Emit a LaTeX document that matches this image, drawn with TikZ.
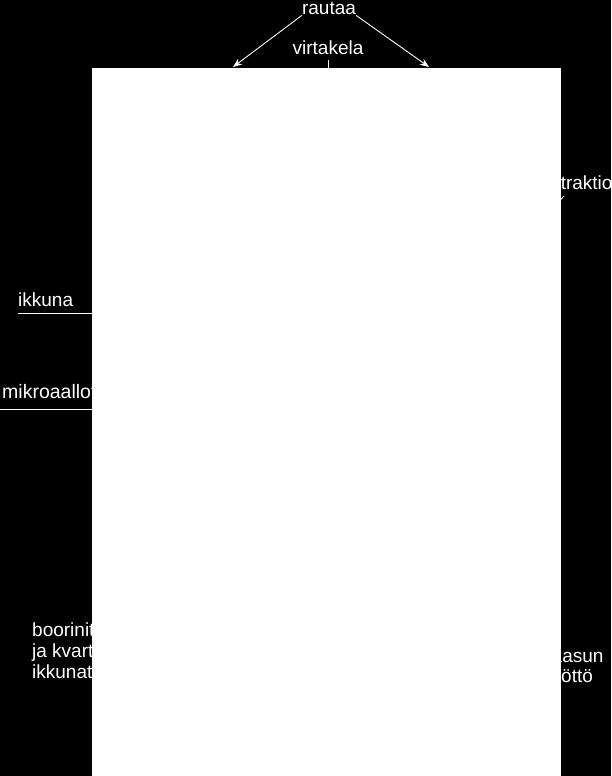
\documentclass[tikz,border=0pt]{standalone}
\usepackage{fontspec}
\setmainfont{Liberation Sans}
\usetikzlibrary{arrows.meta}
\begin{document}
\begin{tikzpicture}[x=1pt,y=-1pt,
  lbl/.style={text=white,font=\fontsize{19}{21}\selectfont,inner sep=0pt},
  wire/.style={draw=white,line width=0.9pt},
  arr/.style={wire,-{Stealth[length=9pt,width=7pt]}}]
\useasboundingbox[fill=black] (0,0) rectangle (611,776);
% labels
\node[lbl,anchor=base] (rautaa) at (329,15) {rautaa};
\node[lbl,anchor=base] (virtakela) at (328,55) {virtakela};
\node[lbl,anchor=base west] (ikkuna) at (18,306) {ikkuna};
\node[lbl,anchor=base west,font=\fontsize{19.5}{21}\selectfont] (mikro) at (2,398) {mikroaallot};
\node[lbl,anchor=base west] (ekstr) at (531,189) {ekstraktio};
\node[lbl,anchor=base west] (boor1) at (32,636) {boorinitridi};
\node[lbl,anchor=base west] (boor2) at (32,657) {ja kvartsi};
\node[lbl,anchor=base west] (boor3) at (32,678) {ikkunat};
\node[lbl,anchor=base west] (kaasu1) at (542,662) {kaasun};
\node[lbl,anchor=base west] (kaasu2) at (542,682) {syöttö};
% connector end points
\coordinate (aL) at (233,67);
\coordinate (aR) at (429,67);
\coordinate (vk) at (328,68);
\coordinate (ik1) at (18,313.5);
\coordinate (ik2) at (92,313.5);
\coordinate (mk1) at (0,409.5);
\coordinate (mk2) at (92,409.5);
\coordinate (ex1) at (564,196);
\coordinate (ex2) at (530,232);
% connectors
\draw[arr] (rautaa.south west) -- (aL);
\draw[arr] (rautaa.south east) -- (aR);
\draw[wire] ([yshift=-5pt]virtakela.south) -- (vk);
\draw[wire] (ik1) -- (ik2);
\draw[wire] (mk1) -- (mk2);
\draw[wire] (ex1) -- (ex2);
% the white picture area
\node[fill=white,draw=none,inner sep=0pt,anchor=north west,
      minimum width=469.5pt,minimum height=708pt] (img) at (91.5,68) {};
\end{tikzpicture}
\end{document}
